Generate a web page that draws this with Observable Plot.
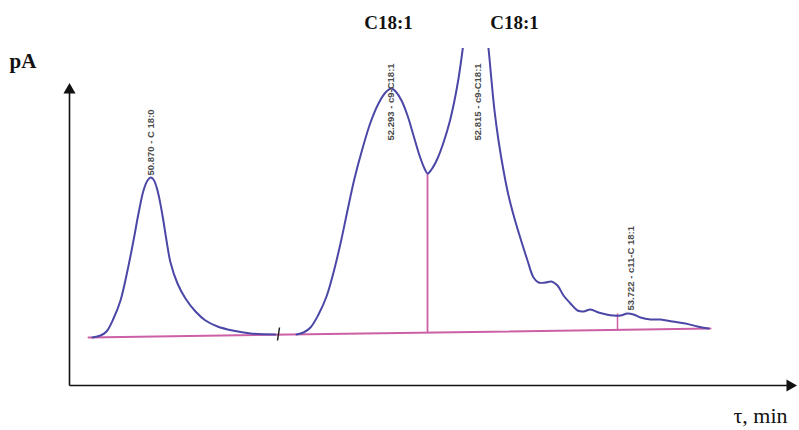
<!DOCTYPE html>
<html>
<head>
<meta charset="utf-8">
<script src="https://cdn.jsdelivr.net/npm/d3@7"></script>
<script src="https://cdn.jsdelivr.net/npm/@observablehq/plot@0.6"></script>
<style>
  html, body { margin: 0; padding: 0; background: #fff; }
  #chart { width: 799px; height: 430px; }
</style>
</head>
<body>
<div id="chart"></div>
<script>
// Retention time (arbitrary chart units) and detector signal (pA, arbitrary units)
// Segment 1: C18:0 peak
const seg1Time = [2.3, 3.1, 3.7, 4.4, 5.1, 5.8, 6.4, 6.9, 7.4, 7.8, 8.1, 8.4, 8.8, 9.3, 9.7, 10.1, 10.8, 11.6, 12.6, 13.6, 14.8, 16.3, 18.1, 20.6];
const seg1Signal = [4.8, 5.0, 5.4, 6.7, 8.5, 11.5, 14.5, 17.2, 19.5, 20.5, 20.8, 20.6, 19.5, 17.0, 14.5, 12.3, 10.2, 8.7, 7.4, 6.5, 5.9, 5.5, 5.2, 5.1];
// Segment 2: C18:1 isomers (main peak goes off scale)
const seg2Time = [22.7, 23.4, 24.1, 24.9, 25.7, 26.4, 27.1, 27.8, 28.5, 29.3, 30.1, 30.9, 31.6, 32.2, 32.7, 33.2, 33.8, 34.4, 35.0, 35.5, 35.8, 36.2, 36.8, 37.4, 38.0, 38.5, 38.9, 39.3, 39.7, 40.6, 41.5, 41.9, 42.2, 42.5, 42.9, 43.4, 43.9, 44.5, 45.1, 45.8, 46.4, 46.9, 47.6, 48.2, 48.8, 49.4, 50.1, 50.8, 51.4, 52.1, 52.9, 53.7, 54.4, 55.1, 55.8, 56.4, 57.1, 58.1, 59.1, 60.3, 61.6, 62.8, 63.9];
const seg2Signal = [5.1, 5.3, 5.8, 7.1, 8.9, 11.3, 14.2, 17.5, 20.7, 23.7, 26.3, 28.2, 29.3, 29.7, 29.3, 28.5, 27.0, 25.0, 23.0, 21.7, 21.2, 21.6, 22.7, 24.3, 26.3, 28.5, 30.7, 33.5, 37.0, 53.5, 37.0, 33.7, 30.5, 27.5, 24.5, 21.5, 19.0, 16.7, 14.7, 12.5, 10.8, 10.3, 10.3, 10.4, 10.0, 9.0, 8.2, 7.5, 7.4, 7.6, 7.3, 7.1, 7.0, 7.0, 7.2, 7.1, 6.8, 6.6, 6.6, 6.4, 6.2, 5.9, 5.7];

// Integration baseline
const baselineTime = [1.9, 64.1];
const baselineSignal = [4.8, 5.7];

// Peak labels
const peakLabels = ["50.870 - C 18:0", "52.293 - c9-C18:1", "52.815 - c9-C18:1", "53.722 - c11-C 18:1"];
const peakLabelTime = [8.1, 32.1, 40.8, 56.1];
const peakLabelSignal = [21.0, 24.5, 24.5, 7.5];

// Drop line (valley split) and small marker
const dropTime = 35.8, dropTop = 21.2, dropBottom = 5.24;
const markTime = 54.8, markTop = 7.2, markBottom = 5.48;
// Axis break mark
const breakTime = [20.8, 21.0], breakSignal = [4.5, 5.8];

// Header labels
const headLabels = ["C18:1", "C18:1"];
const headLabelTime = [31.9, 44.5];

const curve = [
  ...seg1Time.map((t, i) => ({t, s: seg1Signal[i], seg: "a"})),
  ...seg2Time.map((t, i) => ({t, s: seg2Signal[i], seg: "b"}))
];
const baseline = baselineTime.map((t, i) => ({t, s: baselineSignal[i]}));
const labels = peakLabels.map((text, i) => ({text, t: peakLabelTime[i], s: peakLabelSignal[i]}));
const heads = headLabels.map((text, i) => ({text, t: headLabelTime[i]}));

const xMax = 72.8, yMax = 33.7;
const pink = "#cc5fa6", blue = "#4b47a6";

const chart = Plot.plot({
  width: 799,
  height: 430,
  marginLeft: 69,
  marginRight: 2,
  marginTop: 48,
  marginBottom: 45,
  x: {domain: [0, xMax], axis: null},
  y: {domain: [0, yMax], axis: null},
  style: {background: "#fff", overflow: "visible"},
  marks: [
    // axes
    Plot.link([{x1: 0, y1: 0, x2: 0, y2: 29.5}], {x1: "x1", y1: "y1", x2: "x2", y2: "y2", stroke: "#111", strokeWidth: 1.6}),
    Plot.link([{x1: 0, y1: 0, x2: 71.8, y2: 0}], {x1: "x1", y1: "y1", x2: "x2", y2: "y2", stroke: "#111", strokeWidth: 1.6}),
    Plot.dot([{t: 0, s: 29.55}], {x: "t", y: "s", symbol: "triangle", r: 4.5, fill: "#111", stroke: "none"}),
    Plot.dot([{t: 72.05, s: 0}], {x: "t", y: "s", symbol: "triangle", r: 4.5, fill: "#111", stroke: "none", rotate: 90}),
    // baseline & drop lines
    Plot.line(baseline, {x: "t", y: "s", stroke: pink, strokeWidth: 2}),
    Plot.link([{x1: dropTime, y1: dropBottom, x2: dropTime, y2: dropTop}], {x1: "x1", y1: "y1", x2: "x2", y2: "y2", stroke: pink, strokeWidth: 1.8}),
    Plot.link([{x1: markTime, y1: markBottom, x2: markTime, y2: markTop}], {x1: "x1", y1: "y1", x2: "x2", y2: "y2", stroke: pink, strokeWidth: 1.5}),
    Plot.link([{x1: breakTime[0], y1: breakSignal[0], x2: breakTime[1], y2: breakSignal[1]}], {x1: "x1", y1: "y1", x2: "x2", y2: "y2", stroke: "#222", strokeWidth: 1.5}),
    // chromatogram trace
    Plot.line(curve, {x: "t", y: "s", z: "seg", stroke: blue, strokeWidth: 2, curve: "catmull-rom", clip: true}),
    // peak labels
    Plot.text(labels, {x: "t", y: "s", text: "text", rotate: -90, textAnchor: "start", lineAnchor: "middle",
      fontSize: 9.5, fontWeight: "bold", fontFamily: "Liberation Sans, Arial, sans-serif", fill: "#4a4a4a"}),
    // header labels
    Plot.text(heads, {x: "t", frameAnchor: "top", dy: -20, text: "text", lineAnchor: "bottom",
      fontSize: 19, fontWeight: "bold", fontFamily: "Liberation Serif, Times New Roman, serif", fill: "#111"}),
    Plot.text(["pA"], {x: -6.0, y: 31.8, text: d => d, textAnchor: "start", lineAnchor: "bottom",
      fontSize: 21, fontWeight: "bold", fontFamily: "Liberation Serif, Times New Roman, serif", fill: "#111"}),
    Plot.text(["τ, min"], {x: 66.4, y: -3.7, text: d => d, textAnchor: "start", lineAnchor: "bottom",
      fontSize: 22, fontFamily: "Liberation Serif, Times New Roman, serif", fill: "#111"})
  ]
});
document.getElementById("chart").appendChild(chart);
</script>
</body>
</html>
